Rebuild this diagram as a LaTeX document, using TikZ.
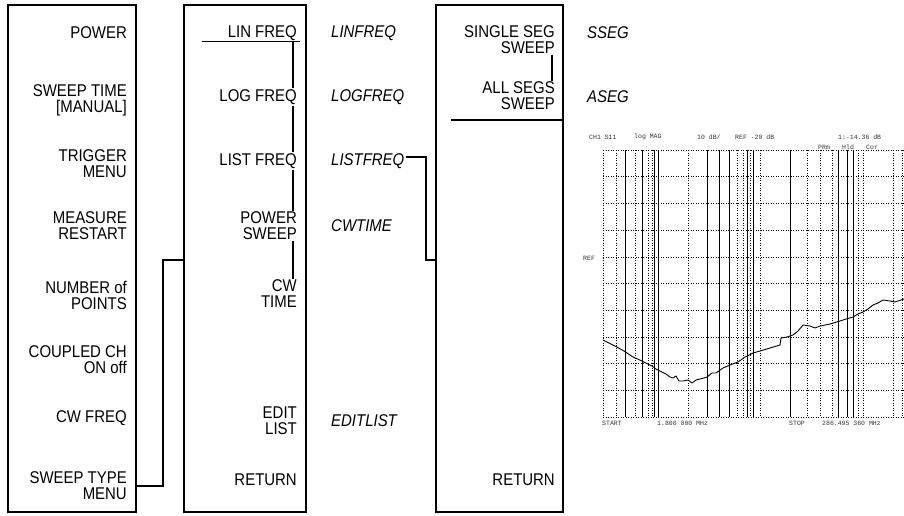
\documentclass[tikz,border=0pt]{standalone}
\usepackage{fontspec}
\setmainfont{Liberation Sans}[FakeStretch=0.88]
\newfontfamily\scrfont{Liberation Mono}
\usetikzlibrary{backgrounds}
\tikzset{
  menubox/.style={draw=black,line width=1.6pt,minimum height=507pt,inner sep=0pt},
  softkey/.style={anchor=east,align=right,inner sep=1pt,fill=white,font=\fontsize{17}{16}\selectfont},
  mnemonic/.style={anchor=west,inner sep=1pt,font=\fontsize{17}{16}\selectfont\itshape},
  wire/.style={line width=1.3pt},
  selbar/.style={line width=1.5pt},
  scrtext/.style={anchor=west,inner sep=0pt,text=black!80,font=\scrfont\fontsize{6.5}{7}\selectfont},
  grat/.style={line width=0.5pt,dotted},
  gratsolid/.style={line width=0.8pt},
  trace/.style={line width=0.9pt,line join=round},
}
\begin{document}
\begin{tikzpicture}[x=1pt,y=-1pt]
  \useasboundingbox (0,0) rectangle (904,515);

  % softkey menus
  \node[menubox,minimum width=128pt] (menuA) at (72,258.5) {};
  \node[menubox,minimum width=122pt] (menuB) at (245,258.5) {};
  \node[menubox,minimum width=127pt] (menuC) at (499.5,258.5) {};

  \node[softkey] (kPower) at (128,33) {POWER};
  \node[softkey] (kSweepTime) at (128,100) {SWEEP TIME\\{[MANUAL]}};
  \node[softkey] (kTrigger) at (128,164) {TRIGGER\\MENU};
  \node[softkey] (kMeasure) at (128,226) {MEASURE\\RESTART};
  \node[softkey] (kNumPoints) at (128,295) {NUMBER of\\POINTS};
  \node[softkey] (kCoupled) at (128,360) {COUPLED CH\\ON off};
  \node[softkey] (kCwFreq) at (128,418) {CW FREQ};
  \node[softkey] (kSweepType) at (128,486) {SWEEP TYPE\\MENU};

  \node[softkey] (kLinFreq) at (298,33) {LIN FREQ};
  \node[softkey] (kLogFreq) at (298,97) {LOG FREQ};
  \node[softkey] (kListFreq) at (298,161) {LIST FREQ};
  \node[softkey] (kPowerSweep) at (298,226) {POWER\\SWEEP};
  \node[softkey] (kCwTime) at (298,294) {CW\\TIME};
  \node[softkey] (kEditList) at (298,421) {EDIT\\LIST};
  \node[softkey] (kReturnB) at (298,480) {RETURN};

  \node[mnemonic] (mLinFreq) at (330,33) {LINFREQ};
  \node[mnemonic] (mLogFreq) at (330,97) {LOGFREQ};
  \node[mnemonic] (mListFreq) at (330,161) {LISTFREQ};
  \node[mnemonic] (mCwTime) at (330,226) {CWTIME};
  \node[mnemonic] (mEditList) at (330,421) {EDITLIST};

  \node[softkey] (kSingleSeg) at (556,40) {SINGLE SEG\\SWEEP};
  \node[softkey] (kAllSegs) at (556,96) {ALL SEGS\\SWEEP};
  \node[softkey] (kReturnC) at (556,480) {RETURN};

  \node[mnemonic] (mSseg) at (586,33) {SSEG};
  \node[mnemonic] (mAseg) at (586,97) {ASEG};

  % selection marks
  \coordinate (barB) at ([xshift=-5pt]kLinFreq.south east);
  \begin{scope}[on background layer]
    \draw[wire] (barB) -- (barB |- kCwTime.north);
  \end{scope}
  \draw[selbar] ([xshift=-25pt]kLinFreq.south west) -- ([xshift=2pt]kLinFreq.south east);
  \draw[wire] ([xshift=-4pt]kSingleSeg.south east) -- ([xshift=-4pt]kAllSegs.north east);
  \draw[selbar] ([xshift=-30pt,yshift=-9pt]kAllSegs.south west) -- ([yshift=-9pt]kAllSegs.south -| menuC.east);

  % menu links
  \coordinate (jogB) at (163,260);
  \draw[wire] (menuA.east |- kSweepType) -| (jogB) -- (menuB.west |- jogB);
  \coordinate (jogC) at (426,260);
  \draw[wire] ([yshift=4pt]mListFreq.east) -| (jogC) -- (menuC.west |- jogC);

  % analyzer screen
  \begin{scope}
    \clip (578,100) rectangle (904,450);
    \foreach \k in {0,...,10}
      \draw[grat] (603,{150+26.7*\k}) -- (940,{150+26.7*\k});
    \foreach \vx in {603,616,635,648,652,688,737,743,750,760,807,820,832,858,863,893,902}
      \draw[grat] (\vx,150) -- (\vx,417);
    \foreach \vx in {625,642,654,658,707,719,729,747,753,790,838,847,853}
      \draw[gratsolid] (\vx,150) -- (\vx,417);
    \draw[trace] plot coordinates {(603,340) (609,343) (615,346) (624,351) (633,357) (642,361)
      (652,366) (656,369) (660,371) (666,374) (670,377) (673,378) (676,376) (679,381) (683,381)
      (688,380) (692,383) (696,380) (700,379) (704,378) (707,377) (712,373) (716,373) (723,368)
      (730,365) (738,362) (745,357) (753,353) (760,351) (770,348) (780,345) (781,338) (787,337)
      (793,335) (798,331) (803,325) (810,326) (815,328) (820,326) (830,324) (840,321) (846,319)
      (853,317) (858,314) (863,312) (868,309) (873,305) (878,303) (883,300) (890,301) (895,302)
      (904,299)};
  \end{scope}
  \node[scrtext] (hChan) at (589,137) {CH1 S11};
  \node[scrtext] (hFmt) at (634,137) {log MAG};
  \node[scrtext] (hScale) at (697,137) {10 dB/};
  \node[scrtext] (hRef) at (735,137) {REF -20 dB};
  \node[scrtext] (hMkr) at (838,137) {1:-14.36 dB};
  \node[scrtext] (hPrm) at (818,147) {PRm};
  \node[scrtext] (hHld) at (842,147) {Hld};
  \node[scrtext] (hCor) at (866,147) {Cor};
  \node[scrtext] (hRefPos) at (583,258) {REF};
  \node[scrtext] (fStart) at (602,423) {START};
  \node[scrtext] (fStartVal) at (657,423) {1.800 000 MHz};
  \node[scrtext] (fStop) at (789,423) {STOP};
  \node[scrtext] (fStopVal) at (822,423) {286.495 360 MHz};
\end{tikzpicture}
\end{document}
